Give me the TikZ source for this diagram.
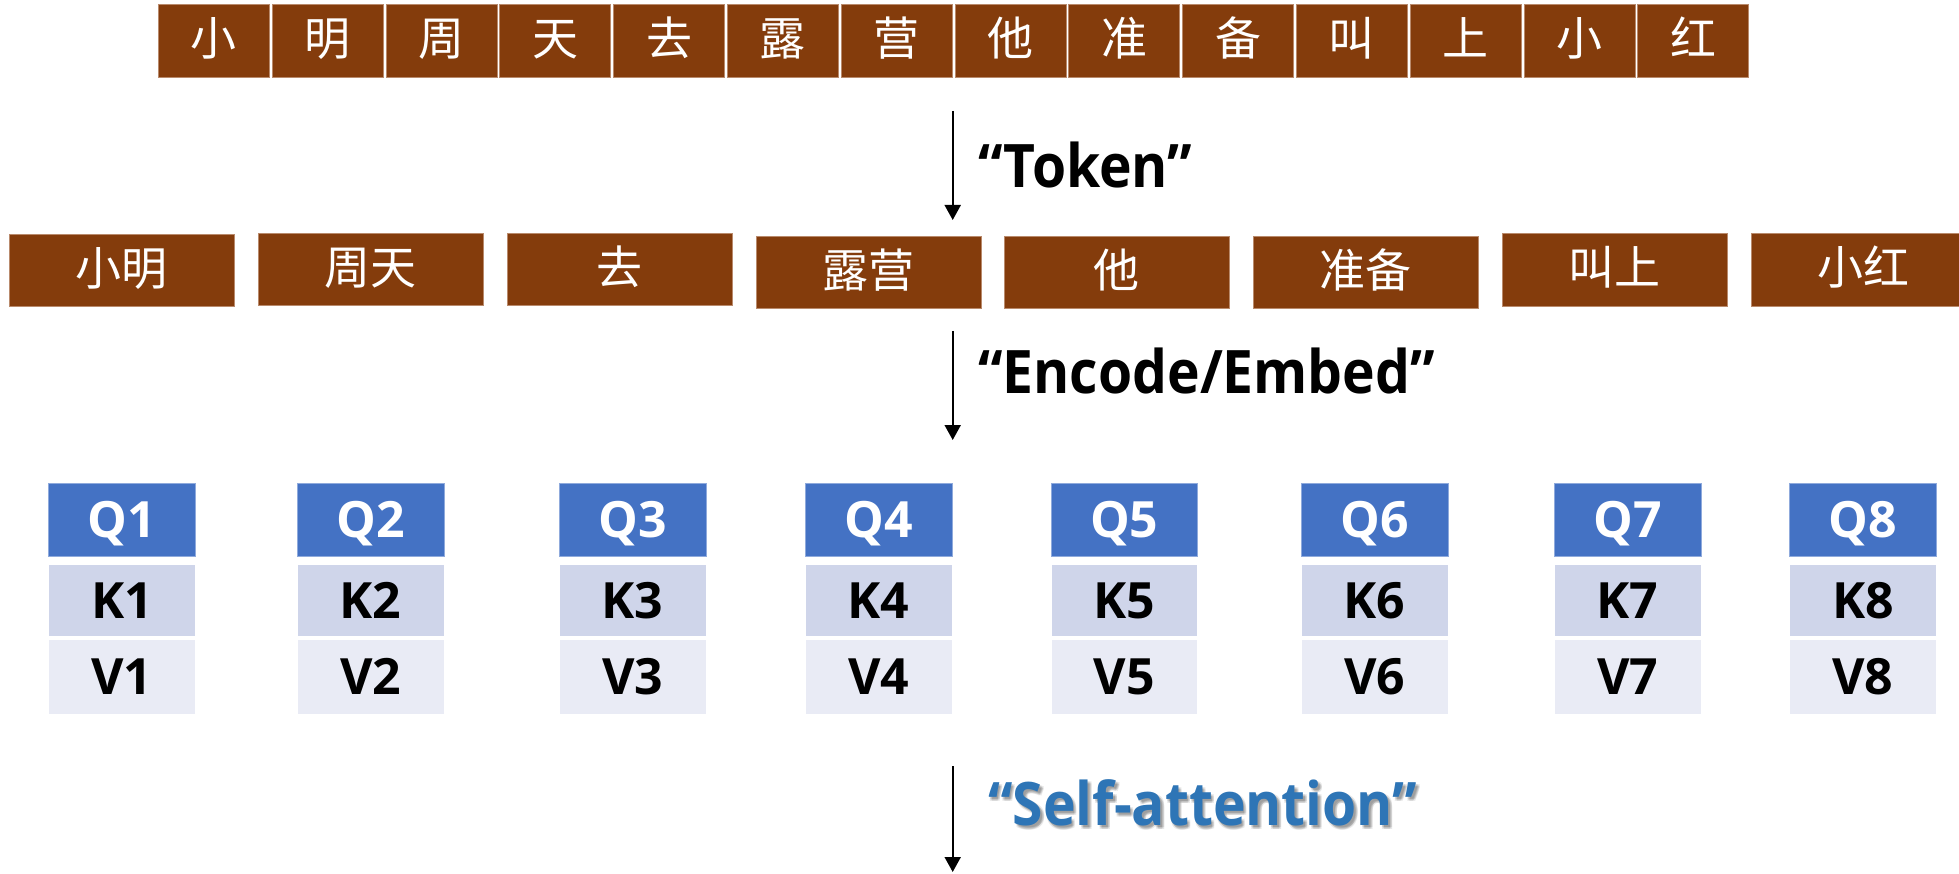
\documentclass[tikz,border=0pt]{standalone}
\usepackage{fontspec}
\setmainfont{Open Sans}
\newfontfamily\cjk{Noto Sans CJK SC}
\newfontfamily\stepfont{Open Sans}[FakeStretch=0.92]
\usetikzlibrary{arrows.meta}

\definecolor{tokbrown}{HTML}{843C0C}
\definecolor{tokedge}{HTML}{B98A6C}
\definecolor{qblue}{HTML}{4472C4}
\definecolor{qedge}{HTML}{8FAADC}
\definecolor{kfill}{HTML}{CFD5EA}
\definecolor{vfill}{HTML}{E9EBF5}
\definecolor{sablue}{HTML}{2E75B6}

\tikzset{
  charbox/.style={anchor=north west, fill=tokbrown, draw=tokedge, line width=0.8pt,
    minimum width=111pt, minimum height=72.7pt, inner sep=0pt, text=white,
    font=\cjk\fontsize{46}{50}\selectfont, text height=40pt, text depth=10.2pt},
  wordbox/.style={charbox, minimum width=224.5pt, minimum height=72.5pt},
  qbox/.style={anchor=north west, fill=qblue, draw=qedge, line width=0.8pt,
    minimum width=146.5pt, minimum height=72.7pt, inner sep=0pt, text=white,
    font=\bfseries\fontsize{50}{56}\selectfont, text height=36pt, text depth=0pt},
  kbox/.style={qbox, fill=kfill, draw=white, text=black, minimum height=72pt},
  vbox/.style={qbox, fill=vfill, draw=white, text=black, minimum height=75pt},
  steplabel/.style={anchor=base west, inner sep=0pt, font=\stepfont\bfseries\fontsize{60}{66}\selectfont},
  haze/.style={steplabel, text=black, opacity=0.09},
  flow/.style={line width=2pt, -{Triangle[width=16pt,length=15pt]}}
}

\begin{document}
\begin{tikzpicture}[x=1pt,y=-1pt]
\useasboundingbox (0,0) rectangle (1959,874);
\clip (0,0) rectangle (1959,874);

% characters of the sentence
\foreach \c [count=\i from 0] in {小,明,周,天,去,露,营,他,准,备,叫,上,小,红}
  \node[charbox] (c\i) at ({158+113.8*\i},4.3) {\c};

% tokens after segmentation
\foreach \w/\x/\y [count=\i] in {小明/9.3/234, 周天/258/233, 去/507/233, 露营/756/235.7,
    他/1004.3/235.7, 准备/1253/235.7, 叫上/1502/233.3, 小红/1750.7/233.3}
  \node[wordbox] (w\i) at (\x,\y) {\w};

% query / key / value vectors per token
\foreach \x [count=\i] in {48.3,297,559,805,1050.7,1301,1554,1789.3} {
  \node[qbox] (q\i) at (\x,483) {Q\i};
  \node[kbox] (k\i) at (\x,564) {K\i};
  \node[vbox] (v\i) at (\x,639) {V\i};
}

% processing steps
\coordinate (s1a) at (952.7,111);
\coordinate (s1b) at (952.7,220);
\coordinate (s2a) at (952.7,331);
\coordinate (s2b) at (952.7,440);
\coordinate (s3a) at (952.7,766);
\coordinate (s3b) at (952.7,872);
\draw[flow] (s1a) -- (s1b);
\draw[flow] (s2a) -- (s2b);
\draw[flow] (s3a) -- (s3b);

\node[steplabel] (tok) at (978,187.7) {“Token”};
\node[steplabel] (enc) at (978,393) {“Encode/Embed”};
% soft drop shadow under the highlighted step
\foreach \dx/\dy [count=\j] in {1.5/1.5, 3.5/3.5, 1.5/3.5, 3.5/1.5, 2.5/2.5}
  \node[haze] (atthaze\j) at (988+\dx,825.7+\dy) {“Self-attention”};
\node[steplabel, text=sablue] (att) at (988,825.7) {“Self-attention”};
\end{tikzpicture}
\end{document}
